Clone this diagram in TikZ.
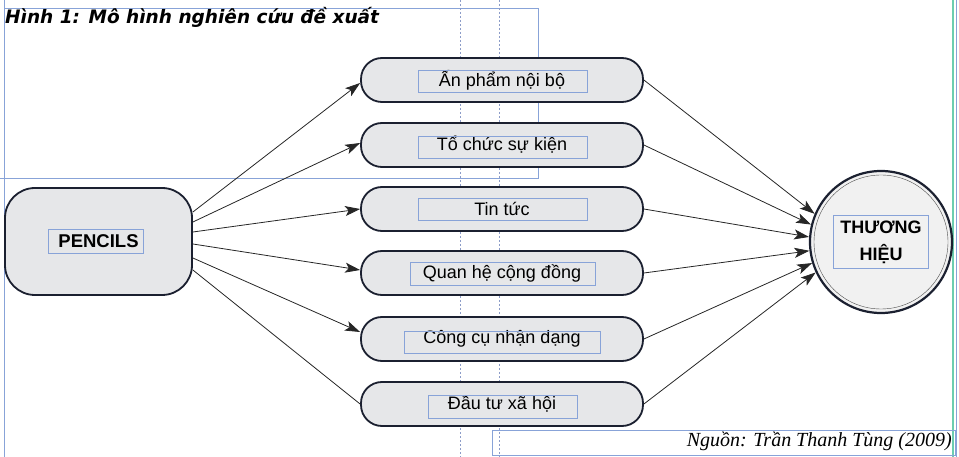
\documentclass[tikz,border=0pt]{standalone}
\usepackage{fontspec}
\setmainfont{Liberation Sans}
\newfontfamily\srcfont{Liberation Serif}
\newfontfamily\titlefont{DejaVu Sans}
\usetikzlibrary{arrows.meta,positioning}
\definecolor{boxfill}{HTML}{E6E7E9}
\definecolor{circfill}{HTML}{F1F1F1}
\definecolor{boxline}{HTML}{1B2030}
\definecolor{framecol}{HTML}{88A3D8}
\definecolor{guidecol}{HTML}{8C9CC8}
\definecolor{tealcol}{HTML}{6CCDB0}

\begin{document}
\begin{tikzpicture}[x=1pt,y=-1pt,
                    pill/.style={rectangle,rounded corners=21pt,draw=boxline,line width=1.8pt,
                                 fill=boxfill,minimum width=282pt,minimum height=44pt,
                                 font=\fontsize{18}{21}\selectfont},
                    srcbox/.style={rectangle,rounded corners=30pt,draw=boxline,line width=1.8pt,
                                 fill=boxfill,minimum width=187pt,minimum height=107pt,
                                 font=\fontsize{18.5}{21}\selectfont\bfseries},
                    brand/.style={circle,draw=boxline,line width=2.2pt,fill=circfill,
                                 minimum size=142pt,align=center,
                                 font=\fontsize{18}{27}\selectfont\bfseries},
                    link/.style={-{Stealth[length=15pt,width=10pt,inset=3.5pt]},line width=0.8pt,draw=black!85},
                    frame/.style={draw=framecol,line width=0.7pt},
                    guide/.style={draw=guidecol,line width=0.6pt,dash pattern=on 2pt off 2pt}]
\useasboundingbox (0,0) rectangle (959,457);

% khung cua trang
\draw[frame] (4,0) -- (4,457);
\draw[frame] (4,8) -- (538,8) -- (538,178) -- (0,178);
\draw[guide] (460,0) -- (460,457);
\draw[guide] (499,0) -- (499,457);
\draw[draw=tealcol,line width=1.4pt] (953,0) -- (953,457);
\draw[frame] (956,0) -- (956,457);

% tieu de
\node[anchor=base west,inner sep=0pt,font=\titlefont\fontsize{18.5}{21}\selectfont\bfseries\itshape] (title)
     at (5,24) {Hình 1: Mô hình nghiên cứu đề xuất};

% cac khoi
\node[srcbox] (pencils) at (98.5,241.5) {PENCILS};
\node[pill] (anpham)  at (502,80)  {Ấn phẩm nội bộ};
\node[pill] (tochuc)  at (502,145) {Tổ chức sự kiện};
\node[pill] (tintuc)  at (502,209) {Tin tức};
\node[pill] (quanhe)  at (502,273) {Quan hệ cộng đồng};
\node[pill] (congcu)  at (502,339) {Công cụ nhận dạng};
\node[pill] (dautu)   at (502,404) {Đầu tư xã hội};
\node[brand] (thuonghieu) at (881,242) {THƯƠNG\\HIỆU};
\draw[draw=black!70,line width=0.4pt] (thuonghieu.center) circle (67pt);

% khung chu
\foreach \xa/\ya/\xb/\yb in {418/70/587/92, 418/136/587/158, 418/198/587/220,
                             410/262/595/285, 404/331/600/353, 428/395/577/418,
                             48/229/143/253, 833/215/928/268, 492/430/955/455}
    \draw[frame] (\xa,\ya) rectangle (\xb,\yb);

% nguon
\node[anchor=base east,inner sep=0pt,font=\srcfont\fontsize{20}{23}\selectfont\itshape] (source)
     at (952,446) {Nguồn: Trần Thanh Tùng (2009)};

% mui ten vao
\draw[link] ([yshift=29.5pt]pencils.east) -- ([yshift=-3pt]anpham.west);
\draw[link] ([yshift=19.5pt]pencils.east) -- ([yshift=2pt]tochuc.west);
\draw[link] ([yshift=9.5pt]pencils.east)  -- (tintuc.west);
\draw[link] ([yshift=-2.5pt]pencils.east) -- ([yshift=3pt]quanhe.west);
\draw[link] ([yshift=-16.5pt]pencils.east) -- ([yshift=7pt]congcu.west);
\draw[line width=0.8pt,draw=black!85] ([yshift=-28.5pt]pencils.east) -- (dautu.west);

% mui ten ra
\draw[link] (anpham.east) -- (thuonghieu.157);
\draw[link] (tochuc.east) -- (thuonghieu.166);
\draw[link] (tintuc.east) -- (thuonghieu.176);
\draw[link] (quanhe.east) -- (thuonghieu.187);
\draw[link] (congcu.east) -- (thuonghieu.197);
\draw[link] (dautu.east)  -- (thuonghieu.205);
\end{tikzpicture}
\end{document}
